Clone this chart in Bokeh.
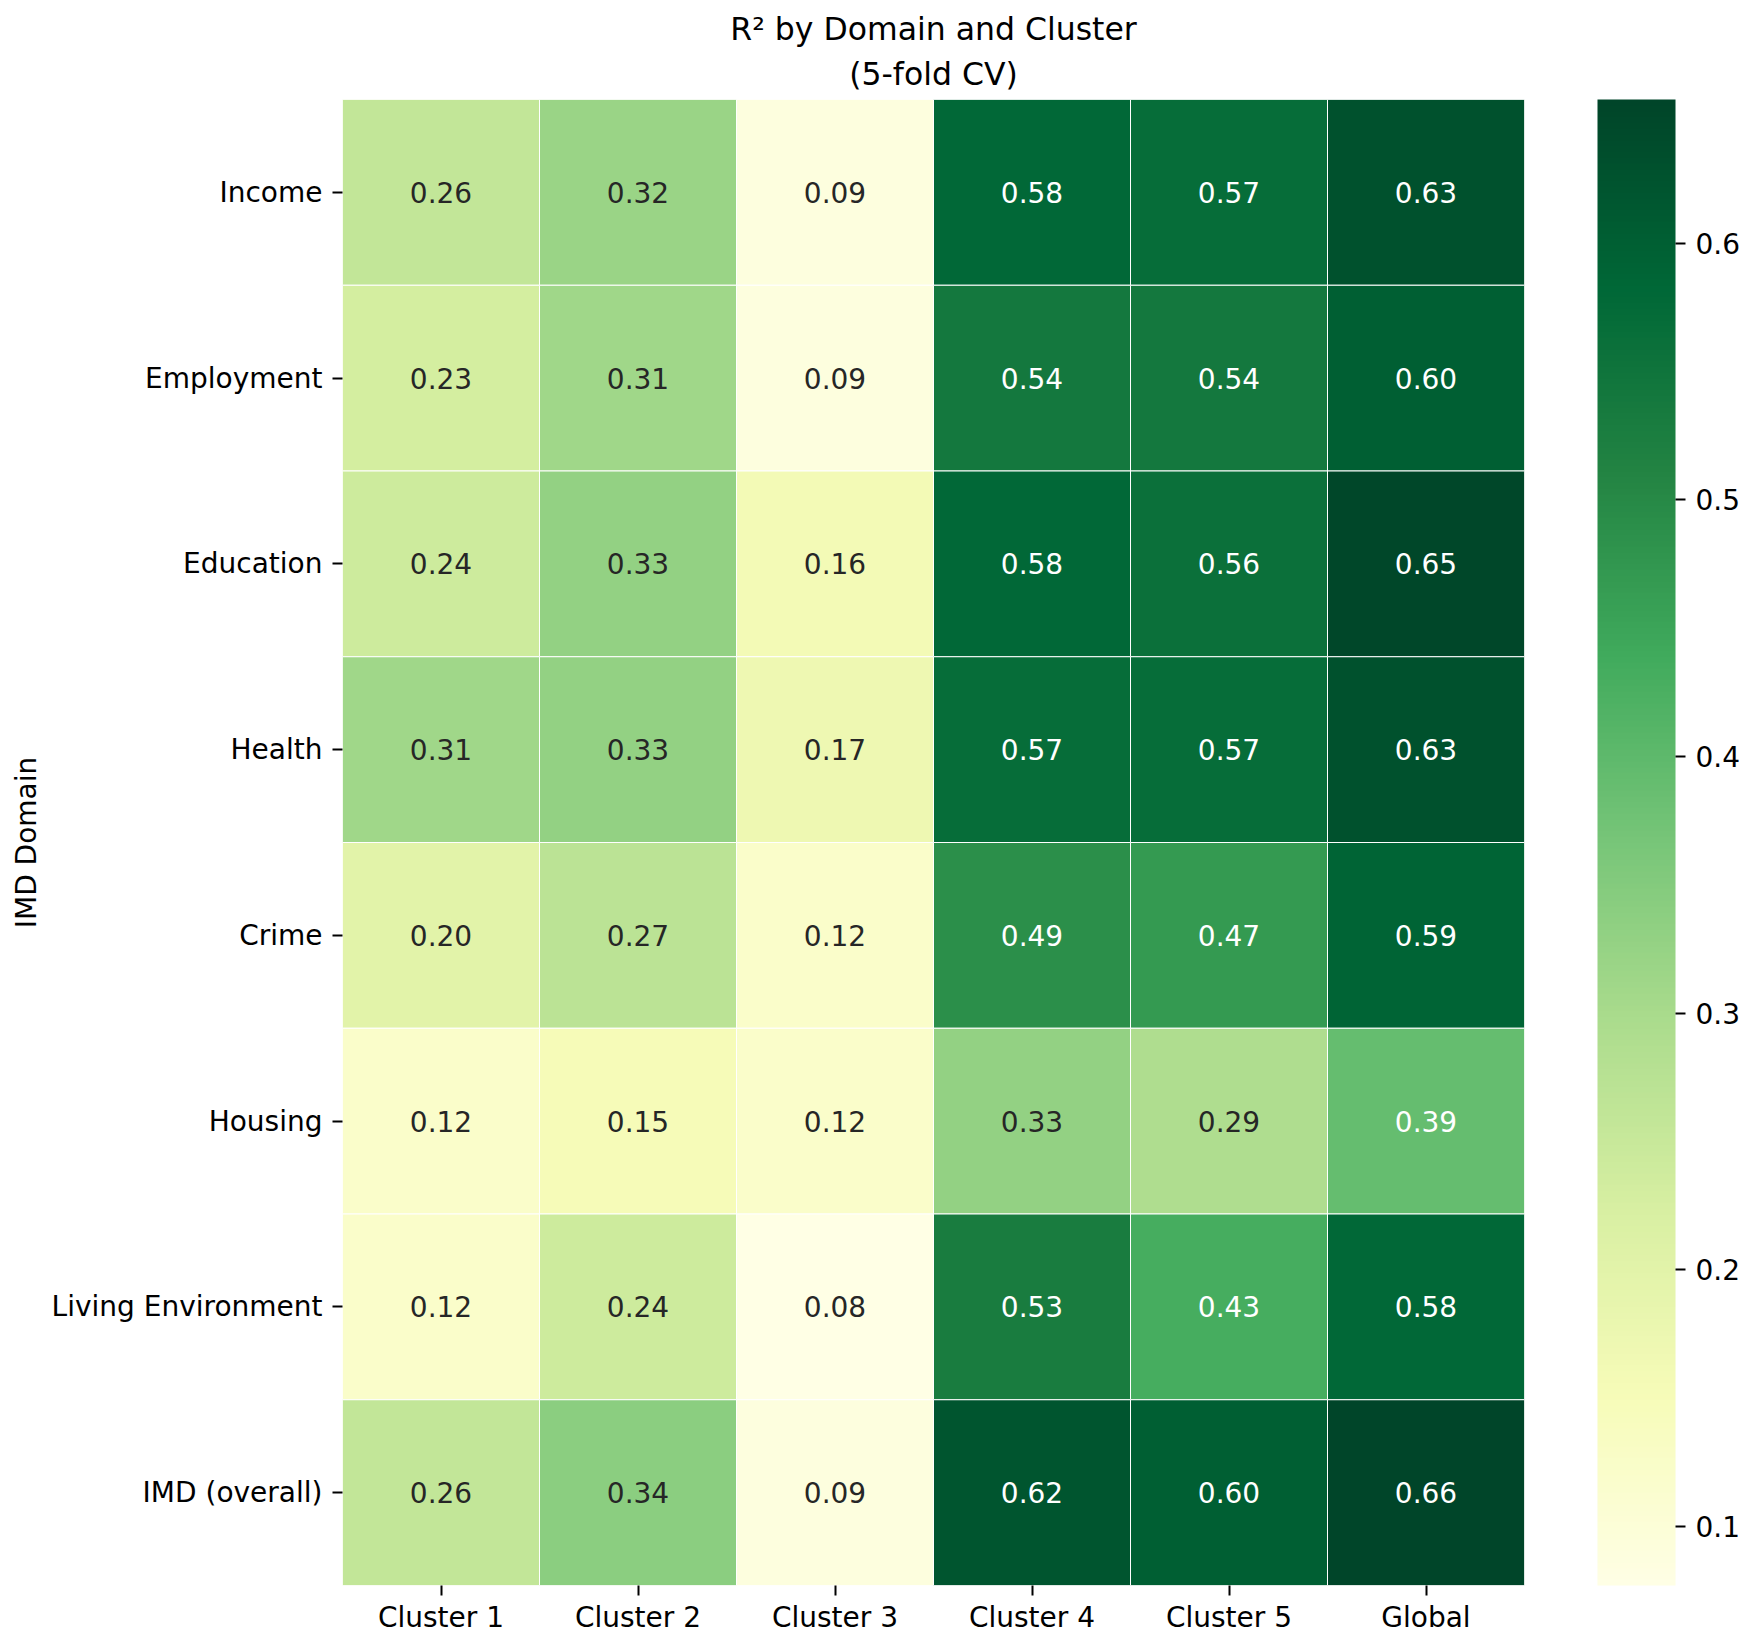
import numpy as np
from bokeh.plotting import figure
from bokeh.models import (ColumnDataSource, LinearColorMapper, ColorBar, FixedTicker,
                          Title, PrintfTickFormatter)
from bokeh.palettes import YlGn9, interp_palette
from bokeh.core.properties import value
from bokeh.embed import file_html
from bokeh.resources import INLINE

# ---- data ----
clusters = ["Cluster 1", "Cluster 2", "Cluster 3", "Cluster 4", "Cluster 5", "Global"]
domains = ["Income", "Employment", "Education", "Health", "Crime", "Housing",
           "Living Environment", "IMD (overall)"]
r2_income = [0.26, 0.32, 0.09, 0.58, 0.57, 0.63]
r2_employment = [0.23, 0.31, 0.09, 0.54, 0.54, 0.60]
r2_education = [0.24, 0.33, 0.16, 0.58, 0.56, 0.65]
r2_health = [0.31, 0.33, 0.17, 0.57, 0.57, 0.63]
r2_crime = [0.20, 0.27, 0.12, 0.49, 0.47, 0.59]
r2_housing = [0.12, 0.15, 0.12, 0.33, 0.29, 0.39]
r2_living = [0.12, 0.24, 0.077, 0.53, 0.43, 0.58]
r2_imd = [0.26, 0.34, 0.09, 0.62, 0.60, 0.656]
colorbar_ticks = [0.1, 0.2, 0.3, 0.4, 0.5, 0.6]

rows = [r2_income, r2_employment, r2_education, r2_health, r2_crime,
        r2_housing, r2_living, r2_imd]

FONT = "DejaVu Sans"
FS = "28px"

xs, ys, vals = [], [], []
for d, row in zip(domains, rows):
    for c, v in zip(clusters, row):
        xs.append(c)
        ys.append(d)
        vals.append(v)

low, high = min(vals), max(vals)
palette = interp_palette(list(YlGn9[::-1]), 256)
mapper = LinearColorMapper(palette=palette, low=low, high=high)


def hex_lum(h):
    h = h.lstrip("#")
    rgb = np.array([int(h[i:i + 2], 16) / 255 for i in (0, 2, 4)])
    rgb = np.where(rgb <= 0.03928, rgb / 12.92, ((rgb + 0.055) / 1.055) ** 2.4)
    return 0.2126 * rgb[0] + 0.7152 * rgb[1] + 0.0722 * rgb[2]


text_colors = []
for v in vals:
    idx = int(np.floor((v - low) / (high - low) * 256))
    idx = min(max(idx, 0), 255)
    text_colors.append("#262626" if hex_lum(palette[idx]) > 0.408 else "white")

src = ColumnDataSource(dict(x=xs, y=ys, v=vals, label=[f"{v:.2f}" for v in vals],
                            tc=text_colors))

FRAME_W, FRAME_H = 1182, 1486
p = figure(width=1763, height=1637, x_range=clusters, y_range=list(reversed(domains)),
           output_backend="svg", toolbar_location=None,
           min_border_left=342, min_border_right=239, min_border_top=99,
           min_border_bottom=52)
p.outline_line_color = None
p.grid.visible = False

p.rect(x="x", y="y", width=1, height=1, source=src,
       fill_color={"field": "v", "transform": mapper},
       line_color="white", line_width=1)
p.text(x="x", y="y", text="label", source=src, text_color="tc",
       text_align="center", text_baseline="middle",
       text_font=value(FONT), text_font_size=FS)

for ax in (p.xaxis[0], p.yaxis[0]):
    ax.axis_line_color = None
    ax.major_tick_in = 0
    ax.major_tick_out = 10
    ax.major_tick_line_color = "black"
    ax.major_tick_line_width = 2
    ax.minor_tick_line_color = None
    ax.major_label_text_font = FONT
    ax.major_label_text_font_size = FS
    ax.major_label_text_color = "black"
    ax.major_label_standoff = 10
p.xaxis.major_label_standoff = 5

p.yaxis.axis_label = "IMD Domain"
p.yaxis.axis_label_text_font = FONT
p.yaxis.axis_label_text_font_size = FS
p.yaxis.axis_label_text_font_style = "normal"
p.yaxis.axis_label_text_color = "black"
p.yaxis.axis_label_standoff = 6

cb = ColorBar(color_mapper=mapper, ticker=FixedTicker(ticks=colorbar_ticks),
              formatter=PrintfTickFormatter(format="%.1f"),
              width=78, height=FRAME_H, padding=0, margin=0,
              location=(FRAME_W + 73, 0),
              major_tick_in=0, major_tick_out=10, major_tick_line_color="black",
              major_tick_line_width=2,
              major_label_text_font=FONT, major_label_text_font_size=FS,
              major_label_text_color="black",
              label_standoff=10, bar_line_color=None, border_line_color=None,
              background_fill_color=None)
p.add_layout(cb, "center")

p.title = None
p.add_layout(Title(text="(5-fold CV)", align="center", text_font=FONT,
                   text_font_size="31.5px", text_font_style="normal",
                   text_color="black", standoff=15), "above")
p.add_layout(Title(text="R² by Domain and Cluster", align="center", text_font=FONT,
                   text_font_size="31.5px", text_font_style="normal",
                   text_color="black", standoff=0), "above")

open("out.html", "w").write(file_html(p, INLINE))
